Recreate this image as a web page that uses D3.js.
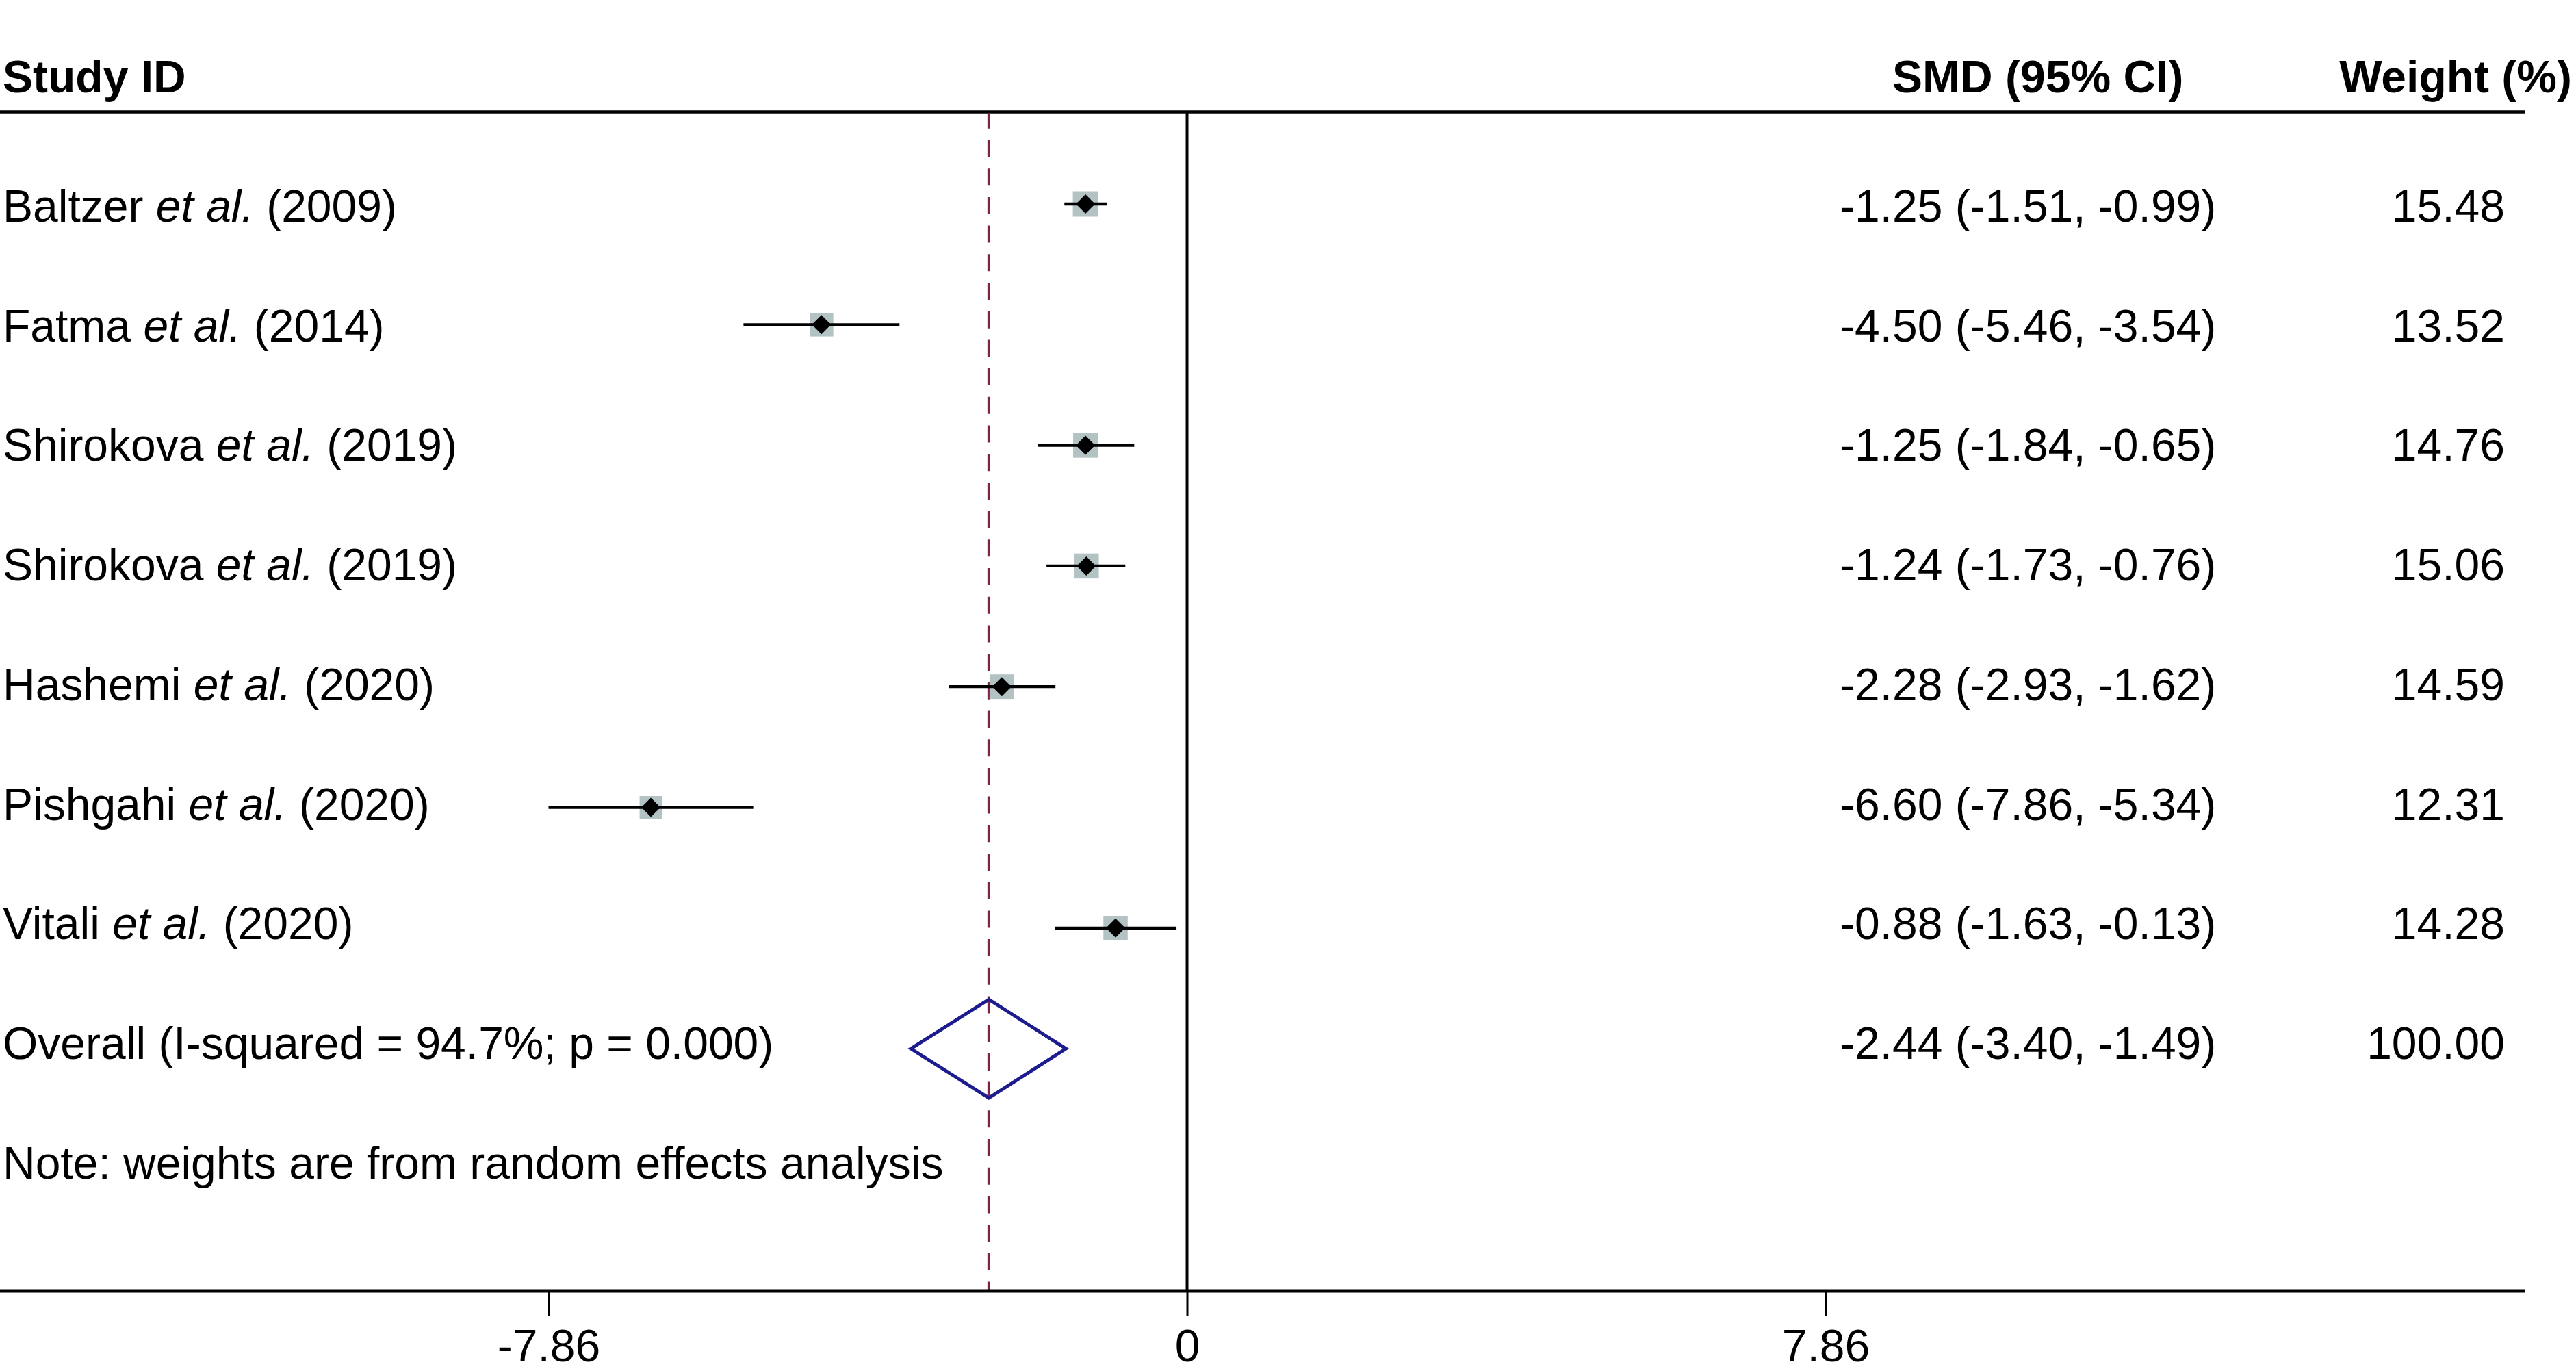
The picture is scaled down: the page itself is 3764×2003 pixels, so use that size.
<!DOCTYPE html>
<html>
<head>
<meta charset="utf-8">
<script src="https://cdn.jsdelivr.net/npm/d3@7"></script>
<style>
  html, body { margin: 0; padding: 0; background: #ffffff; }
  svg { display: block; }
  text { font-family: "Liberation Sans", Arial, Helvetica, sans-serif; fill: #000; }
</style>
</head>
<body>
<svg id="chart" width="3764" height="2003"></svg>
<script>
// ---- data ----
const authors = ["Baltzer", "Fatma", "Shirokova", "Shirokova", "Hashemi", "Pishgahi", "Vitali"];
const years   = [2009, 2014, 2019, 2019, 2020, 2020, 2020];
const smd     = [-1.25, -4.50, -1.25, -1.24, -2.28, -6.60, -0.88];
const ciLow   = [-1.51, -5.46, -1.84, -1.73, -2.93, -7.86, -1.63];
const ciHigh  = [-0.99, -3.54, -0.65, -0.76, -1.62, -5.34, -0.13];
const weights = [15.48, 13.52, 14.76, 15.06, 14.59, 12.31, 14.28];
const overall = { smd: -2.44, lo: -3.40, hi: -1.49, weight: 100.00 };
const overallLabel = "Overall (I-squared = 94.7%; p = 0.000)";
const noteLabel = "Note: weights are from random effects analysis";
const tickValues = [-7.86, 0, 7.86];
const tickLabels = ["-7.86", "0", "7.86"];
const headers = ["Study ID", "SMD (95% CI)", "Weight (%)"];

// ---- layout ----
const svg = d3.select("#chart");
const W = 3764, H = 2003;
const FS = 66;

const x = d3.scaleLinear().domain([-7.86, 7.86]).range([801.5, 2667.5]);
const yMark = d3.scaleLinear().domain([0, 1]).range([298, 298 + 176.3]);
const yText = d3.scaleLinear().domain([0, 1]).range([324, 324 + 174.7]);

const headerLineY = 163.5;
const axisY = 1886;
const plotRight = 3690;
const labelX = 4;
const smdX = 2688;
const wtX = 3660;
const fmt = v => v.toFixed(2);

svg.append("rect").attr("width", W).attr("height", H).attr("fill", "#fff");

// header texts
svg.append("text").attr("x", labelX).attr("y", 135).attr("font-size", FS).attr("font-weight", "bold").text(headers[0]);
svg.append("text").attr("x", 2765).attr("y", 135).attr("font-size", FS).attr("font-weight", "bold").text(headers[1]);
svg.append("text").attr("x", 3758).attr("y", 135).attr("text-anchor", "end").attr("font-size", FS).attr("font-weight", "bold").text(headers[2]);

// header line
svg.append("line").attr("x1", 0).attr("x2", plotRight).attr("y1", headerLineY).attr("y2", headerLineY)
  .attr("stroke", "#000").attr("stroke-width", 4.5);

// null line at 0
svg.append("line").attr("x1", x(0)).attr("x2", x(0)).attr("y1", headerLineY).attr("y2", axisY)
  .attr("stroke", "#000").attr("stroke-width", 4);

// overall dashed line
svg.append("line").attr("x1", x(overall.smd)).attr("x2", x(overall.smd))
  .attr("y1", headerLineY + 2).attr("y2", axisY)
  .attr("stroke", "#7f2246").attr("stroke-width", 4)
  .attr("stroke-dasharray", "25,16.7").attr("stroke-dashoffset", 2.7);

// study rows
const rows = authors.map((a, i) => ({ a, yr: years[i], smd: smd[i], lo: ciLow[i], hi: ciHigh[i], w: weights[i], i }));

const g = svg.append("g");
const side = w => 9.4 * Math.sqrt(w);
g.selectAll("rect.wt").data(rows).join("rect").attr("class", "wt")
  .attr("x", d => x(d.smd) - side(d.w) / 2)
  .attr("y", d => yMark(d.i) - side(d.w) / 2)
  .attr("width", d => side(d.w))
  .attr("height", d => side(d.w))
  .attr("fill", "#b3c3c3");
g.selectAll("line.ci").data(rows).join("line").attr("class", "ci")
  .attr("x1", d => x(d.lo)).attr("x2", d => x(d.hi))
  .attr("y1", d => yMark(d.i)).attr("y2", d => yMark(d.i))
  .attr("stroke", "#000").attr("stroke-width", 4.3);
g.selectAll("path.pt").data(rows).join("path").attr("class", "pt")
  .attr("d", d => {
    const cx = x(d.smd), cy = yMark(d.i), r = 14;
    return `M${cx},${cy - r}L${cx + r},${cy}L${cx},${cy + r}L${cx - r},${cy}Z`;
  })
  .attr("fill", "#000");

// study labels
const lab = svg.selectAll("text.lab").data(rows).join("text").attr("class", "lab")
  .attr("x", labelX).attr("y", d => yText(d.i)).attr("font-size", FS);
lab.append("tspan").text(d => d.a + " ");
lab.append("tspan").attr("font-style", "italic").text("et al.");
lab.append("tspan").text(d => " (" + d.yr + ")");

svg.selectAll("text.smd").data(rows).join("text").attr("class", "smd")
  .attr("x", smdX).attr("y", d => yText(d.i)).attr("font-size", FS)
  .text(d => `${fmt(d.smd)} (${fmt(d.lo)}, ${fmt(d.hi)})`);
svg.selectAll("text.wtxt").data(rows).join("text").attr("class", "wtxt")
  .attr("x", wtX).attr("y", d => yText(d.i)).attr("text-anchor", "end").attr("font-size", FS)
  .text(d => fmt(d.w));

// overall row
const oi = authors.length;
const oy = yMark(oi);
svg.append("path")
  .attr("d", `M${x(overall.lo)},${oy}L${x(overall.smd)},${oy - 72}L${x(overall.hi)},${oy}L${x(overall.smd)},${oy + 72}Z`)
  .attr("fill", "none").attr("stroke", "#1c1c8e").attr("stroke-width", 5).attr("stroke-linejoin", "miter");
svg.append("text").attr("x", labelX).attr("y", yText(oi)).attr("font-size", FS).text(overallLabel);
svg.append("text").attr("x", smdX).attr("y", yText(oi)).attr("font-size", FS)
  .text(`${fmt(overall.smd)} (${fmt(overall.lo)}, ${fmt(overall.hi)})`);
svg.append("text").attr("x", wtX).attr("y", yText(oi)).attr("text-anchor", "end").attr("font-size", FS)
  .text(fmt(overall.weight));

// note
svg.append("text").attr("x", labelX).attr("y", yText(oi + 1)).attr("font-size", FS).text(noteLabel);

// x axis
svg.append("line").attr("x1", 0).attr("x2", plotRight).attr("y1", axisY).attr("y2", axisY)
  .attr("stroke", "#000").attr("stroke-width", 5);
const axis = d3.axisBottom(x).tickValues(tickValues).tickFormat((d, i) => tickLabels[i])
  .tickSize(36).tickPadding(20).tickSizeOuter(0);
const ag = svg.append("g").attr("transform", `translate(0,${axisY})`).call(axis);
ag.select(".domain").remove();
ag.selectAll(".tick line").attr("stroke", "#000").attr("stroke-width", 3);
ag.selectAll(".tick text").attr("font-size", FS).attr("fill", "#000")
  .attr("font-family", "\"Liberation Sans\", Arial, Helvetica, sans-serif")
  .attr("dy", null).attr("y", 103);
</script>
</body>
</html>
